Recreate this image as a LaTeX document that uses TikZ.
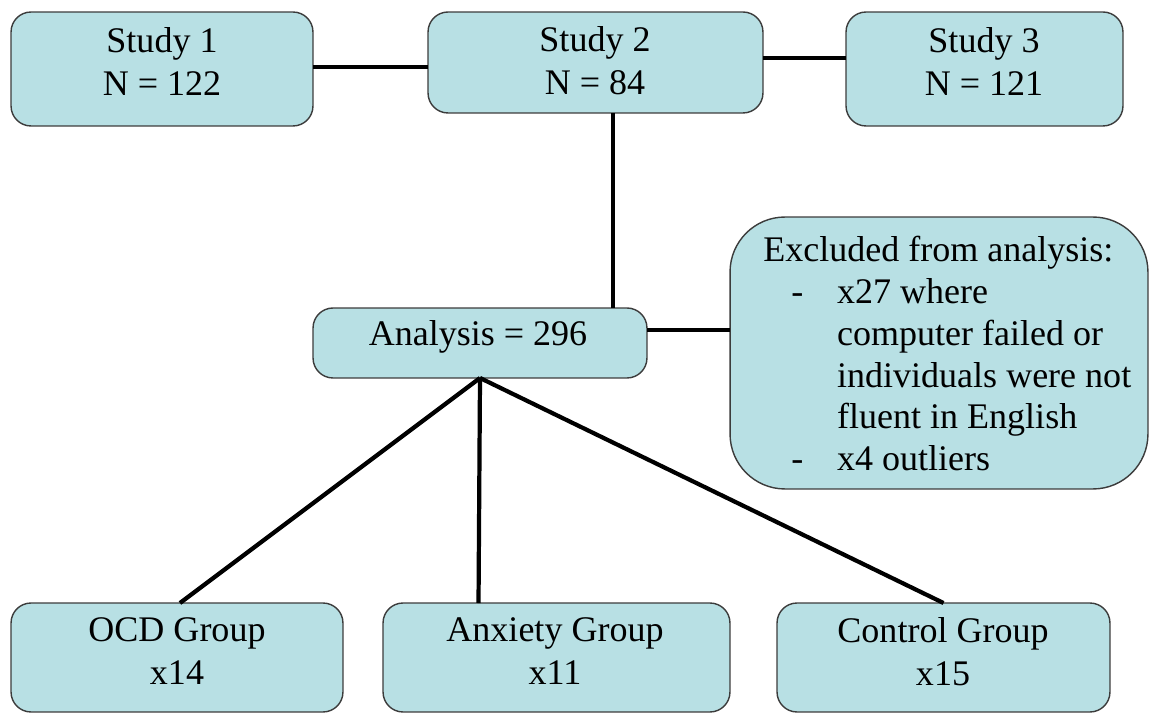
\documentclass[tikz,border=0pt]{standalone}
\usepackage{fontspec}
\setmainfont{Liberation Serif}
\definecolor{boxfill}{RGB}{184,224,228}
\definecolor{boxline}{RGB}{60,60,60}
\begin{document}
\begin{tikzpicture}[x=0.02cm,y=-0.02cm,
  box/.style={draw=boxline,fill=boxfill,line width=0.8pt,rounded corners=0.4cm,inner sep=0pt,outer sep=0pt,rectangle},
  txt/.style={font=\fontsize{20.5}{24.4}\selectfont,inner sep=0pt,align=center,anchor=north},
  link/.style={line width=2.4pt,black}]
\useasboundingbox (0,0) rectangle (1150,715);
% boxes
\node[box,minimum width=6.04cm,minimum height=2.28cm] (s1) at (162,69) {};
\node[box,minimum width=6.7cm,minimum height=2.02cm] (s2) at (595.5,62.5) {};
\node[box,minimum width=5.54cm,minimum height=2.28cm] (s3) at (984.5,69) {};
\node[box,minimum width=6.68cm,minimum height=1.4cm] (an) at (480,343) {};
\node[box,rounded corners=1.1cm,minimum width=8.36cm,minimum height=5.44cm] (ex) at (939,353) {};
\node[box,minimum width=6.64cm,minimum height=2.18cm] (ocd) at (177,657.5) {};
\node[box,minimum width=6.94cm,minimum height=2.18cm] (anx) at (556.5,657.5) {};
\node[box,minimum width=6.66cm,minimum height=2.18cm] (ctl) at (943.5,657.5) {};
% texts
\node[txt] (t1) at (162,27) {Study 1\\N = 122};
\node[txt] (t2) at (595,26) {Study 2\\N = 84};
\node[txt] (t3) at (984,27) {Study 3\\N = 121};
\node[txt] (ta) at (478,320) {Analysis = 296};
\node[txt,anchor=north west,align=left,font=\fontsize{20.5}{23.8}\selectfont] (tex) at (763,236)
  {Excluded from analysis:\\
   \makebox[42pt][l]{\hspace*{16pt}-}x27 where\\
   \hspace*{42pt}computer failed or\\
   \hspace*{42pt}individuals were not\\
   \hspace*{42pt}fluent in English\\
   \makebox[42pt][l]{\hspace*{16pt}-}x4 outliers};
\node[txt] (to) at (177,617) {OCD Group\\x14};
\node[txt] (tx) at (555,617) {Anxiety Group\\x11};
\node[txt] (tc) at (943,617) {Control Group\\x15};
% connectors
\draw[link] ([yshift=0.04cm]s1.east) -- ([yshift=0.04cm]s1.east -| s2.west);
\draw[link] ([yshift=0.09cm]s2.east) -- ([yshift=0.09cm]s2.east -| s3.west);
\draw[link] ([xshift=0.35cm]s2.south) -- ([xshift=0.35cm]s2.south |- an.north);
\draw[link] ([yshift=0.26cm]an.east) -- ([yshift=0.26cm]an.east -| ex.west);
\draw[link] (an.south) -- ([xshift=0.06cm]ocd.north);
\draw[link] (an.south) -- ([xshift=-1.56cm]anx.north);
\draw[link] (an.south) -- (ctl.north);
\end{tikzpicture}
\end{document}
